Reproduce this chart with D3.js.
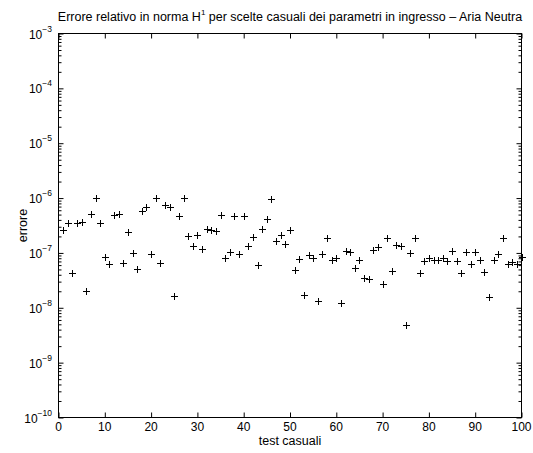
<!DOCTYPE html>
<html>
<head>
<meta charset="utf-8">
<script src="https://cdn.jsdelivr.net/npm/d3@7/dist/d3.min.js"></script>
<style>
  html, body { margin: 0; padding: 0; background: #fff; }
  svg { display: block; font-family: "Liberation Sans", Arial, Helvetica, sans-serif; }
</style>
</head>
<body>
<svg id="chart" width="533" height="453"></svg>
<script>
// ---- data ----
const testIndex = d3.range(1, 101);
const errore = [
  2.59e-7, 3.56e-7, 4.27e-8, 3.47e-7, 3.66e-7, 2.01e-8, 5.19e-7, 9.87e-7, 3.47e-7, 8.57e-8,
  6.31e-8, 4.85e-7, 5.05e-7, 6.67e-8, 2.41e-7, 9.87e-8, 5.05e-8, 5.80e-7, 6.76e-7, 9.60e-8,
  9.87e-7, 6.67e-8, 7.37e-7, 6.86e-7, 1.61e-8, 4.71e-7, 9.87e-7, 2.01e-7, 1.34e-7, 2.15e-7,
  1.20e-7, 2.77e-7, 2.59e-7, 2.55e-7, 4.91e-7, 8.22e-8, 1.03e-7, 4.77e-7, 9.60e-8, 4.71e-7,
  1.36e-7, 1.98e-7, 5.97e-8, 2.69e-7, 4.09e-7, 9.59e-7, 1.63e-7, 2.10e-7, 1.48e-7, 2.65e-7,
  4.91e-8, 7.67e-8, 1.72e-8, 9.08e-8, 8.00e-8, 1.34e-8, 9.72e-8, 1.90e-7, 7.56e-8, 8.00e-8,
  1.22e-8, 1.07e-7, 1.03e-7, 5.41e-8, 7.36e-8, 3.51e-8, 3.37e-8, 1.12e-7, 1.30e-7, 2.77e-8,
  1.90e-7, 4.65e-8, 1.38e-7, 1.34e-7, 4.77e-9, 1.01e-7, 1.90e-7, 4.27e-8, 7.24e-8, 8.11e-8,
  7.50e-8, 7.50e-8, 8.22e-8, 7.24e-8, 1.07e-7, 7.16e-8, 4.33e-8, 1.05e-7, 6.23e-8, 1.03e-7,
  7.36e-8, 4.45e-8, 1.56e-8, 7.50e-8, 9.72e-8, 1.85e-7, 6.31e-8, 6.76e-8, 6.39e-8, 8.57e-8
];
const xTicks = [0, 10, 20, 30, 40, 50, 60, 70, 80, 90, 100];
const yExponents = [-3, -4, -5, -6, -7, -8, -9, -10];
const titleMain = "Errore relativo in norma H";
const titleSup = "1";
const titleRest = " per scelte casuali dei parametri in ingresso \u2013 Aria Neutra";
const xLabel = "test casuali";
const yLabel = "errore";

// ---- layout ----
const svg = d3.select("#chart");
const L = 58.5, T = 33.5, R = 521.5, B = 417.5;

const x = d3.scaleLinear().domain([0, 100]).range([L, R]);
const y = d3.scaleLog().domain([1e-10, 1e-3]).range([B, T]);

const minorVals = [];
for (let e = -10; e < -3; e++) {
  for (let m = 2; m <= 9; m++) minorVals.push(m * Math.pow(10, e));
}
const majorVals = yExponents.map(e => Math.pow(10, e));

const g = svg.append("g");
g.append("g").attr("transform", `translate(0,${B})`)
  .call(d3.axisBottom(x).tickValues(xTicks).tickSizeInner(-5).tickSizeOuter(0).tickFormat(""));
g.append("g").attr("transform", `translate(0,${T})`)
  .call(d3.axisTop(x).tickValues(xTicks).tickSizeInner(-5).tickSizeOuter(0).tickFormat(""));
g.append("g").attr("transform", `translate(${L},0)`)
  .call(d3.axisLeft(y).tickValues(majorVals).tickSizeInner(-5).tickSizeOuter(0).tickFormat(""));
g.append("g").attr("transform", `translate(${L},0)`)
  .call(d3.axisLeft(y).tickValues(minorVals).tickSizeInner(-3).tickSizeOuter(0).tickFormat(""));
g.append("g").attr("transform", `translate(${R},0)`)
  .call(d3.axisRight(y).tickValues(majorVals).tickSizeInner(-5).tickSizeOuter(0).tickFormat(""));
g.append("g").attr("transform", `translate(${R},0)`)
  .call(d3.axisRight(y).tickValues(minorVals).tickSizeInner(-3).tickSizeOuter(0).tickFormat(""));
g.selectAll(".domain").remove();
g.selectAll(".tick line").attr("stroke", "#000").attr("stroke-width", 1);

svg.append("rect")
  .attr("x", L).attr("y", T).attr("width", R - L).attr("height", B - T)
  .attr("fill", "none").attr("stroke", "#000").attr("stroke-width", 1);

// x tick labels
svg.append("g").selectAll("text").data(xTicks).join("text")
  .attr("x", d => x(d)).attr("y", B + 13)
  .attr("text-anchor", "middle").attr("font-size", 12).attr("fill", "#000")
  .text(d => d);

// y tick labels
const yl = svg.append("g").selectAll("text").data(yExponents).join("text")
  .attr("x", 52).attr("y", d => y(Math.pow(10, d)) + 5)
  .attr("text-anchor", "end").attr("font-size", 12).attr("fill", "#000");
yl.append("tspan").text("10");
yl.append("tspan").attr("font-size", 8.5).attr("dy", -7).text(d => "\u2212" + Math.abs(d));

// title
const title = svg.append("text")
  .attr("x", (L + R) / 2).attr("y", 21)
  .attr("text-anchor", "middle").attr("font-size", 12.5).attr("fill", "#000");
title.append("tspan").text(titleMain);
title.append("tspan").attr("font-size", 8).attr("dy", -6).text(titleSup);
title.append("tspan").attr("dy", 6).text(titleRest);

// axis labels
svg.append("text").attr("x", (L + R) / 2).attr("y", 445)
  .attr("text-anchor", "middle").attr("font-size", 12.5).attr("fill", "#000").text(xLabel);
svg.append("text").attr("transform", `translate(27,${(T + B) / 2}) rotate(-90)`)
  .attr("text-anchor", "middle").attr("font-size", 12.5).attr("fill", "#000").text(yLabel);

// markers "+"
const pts = testIndex.map((t, i) => ({ t, v: errore[i] }));
const s = 3.5;
svg.append("g").selectAll("path").data(pts).join("path")
  .attr("d", d => {
    const px = Math.round(x(d.t)) + 0.5, py = Math.round(y(d.v)) + 0.5;
    return `M${px - s},${py}H${px + s}M${px},${py - s}V${py + s}`;
  })
  .attr("stroke", "#000").attr("stroke-width", 1).attr("fill", "none");
</script>
</body>
</html>
